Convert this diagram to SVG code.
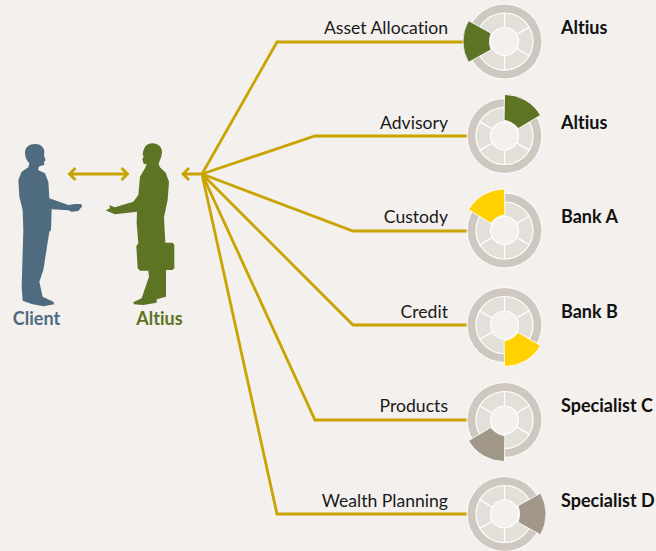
<svg xmlns="http://www.w3.org/2000/svg" width="656" height="551" viewBox="0 0 656 551">
<style>
text{font-variant-ligatures:none}
.c{fill:none;stroke:#c9a400;stroke-width:2.8;stroke-linejoin:miter}
.l{font-family:"Lato","Noto Sans",sans-serif;font-size:17.6px;fill:#1a1a1a;text-anchor:end}
.n{font-family:"Lato","Noto Sans",sans-serif;font-size:18px;font-weight:700;fill:#111}
.p{font-family:"Lato","Noto Sans",sans-serif;font-size:18px;font-weight:700;text-anchor:middle}
.o{fill:#cfc8c0;stroke:#fff;stroke-width:1}
.s{fill:#e3dfd9;stroke:#fff;stroke-width:1.2}
.h{fill:#f3f0ed;stroke:#fff;stroke-width:1.2}
.g{fill:#5c7423}.y{fill:#ffd100}.t{fill:#a2988a}
.wd{stroke:#fff;stroke-width:.8}
</style>
<defs>
<g id="dial">
<circle class="o" r="37.500"/>
<g class="s">
<path d="M0-28.500A28.500 28.500 0 0 1 24.700-14.250L0 0Z"/>
<path d="M24.700-14.250A28.500 28.500 0 0 1 24.700 14.250L0 0Z"/>
<path d="M24.700 14.250A28.500 28.500 0 0 1 0 28.500L0 0Z"/>
<path d="M0 28.500A28.500 28.500 0 0 1-24.700 14.250L0 0Z"/>
<path d="M-24.700 14.250A28.500 28.500 0 0 1-24.700-14.250L0 0Z"/>
<path d="M-24.700-14.250A28.500 28.500 0 0 1 0-28.500L0 0Z"/>
</g>
<circle class="h" r="14"/>
</g>
<path id="wedge" d="M-36-20.800A41.600 41.600 0 0 0-36 20.800L-13.500 8.300A24 24 0 0 1-13.500-8.300Z"/>
</defs>
<rect width="656" height="551" fill="#f3f0ed"/>
<g id="connectors">
<path class="c" d="M202 174L277 42H465"/>
<path class="c" d="M202 174L315 136H468"/>
<path class="c" d="M202 174L353 231H468"/>
<path class="c" d="M202 174L353 325H468"/>
<path class="c" d="M202 174L315 420H468"/>
<path class="c" d="M202 174L277 514H468"/>
<path class="c" d="M202 174H183M189 168L183 174L189 180"/>
<path class="c" d="M70 174H127M75.500 168L69.500 174L75.500 180M121.500 168L127.500 174L121.500 180"/>
</g>
<g id="client">
<path fill="#4f6b80" transform="translate(0 130) scale(.3333)" d="M105 42C122 42 133 52 133 66L132 78L137 90L132 96L133 104C126 108 119 106 116 112L114 120L135 130L145 155L148 205L205 225L225 222L243 222L247 228L235 243L215 245L205 241L155 238L153 300L148 305L130 420L118 455L128 500L160 515L163 523L130 529L95 522L68 512L65 470L70 300L68 240L58 200L55 150L65 125L85 112L88 100C78 90 75 78 75 68C75 52 88 42 105 42Z"/>
<text class="p" x="36.500" y="325" fill="#4f6b80">Client</text>
</g>
<g id="altius">
<path fill="#5c7423" transform="translate(0 130) scale(.3333)" d="M457 40C475 40 487 52 486 68C485 82 478 92 476 102L480 112L497 128L507 155L503 210L492 262L496 338L518 338L523 345L523 415L517 420L498 420L498 500L470 508L470 518L430 525L402 523L400 517L425 505L447 440L445 422L420 422L413 415L409 348L415 340L410 280L411 245L345 253L330 247L317 241L330 235L328 226L345 232L400 215L415 195L420 140L435 115L440 103L431 101L427 88L431 80L428 72C432 50 440 40 457 40Z"/>
<text class="p" x="159.500" y="325" fill="#5c7423">Altius</text>
</g>
<g id="n1"><use href="#dial" x="504.500" y="41.500"/><use href="#wedge" class="g wd" transform="translate(504.500 41.500)"/><text class="l" x="448" y="34">Asset Allocation</text><text class="n" x="561" y="34">Altius</text></g>
<g id="n2"><use href="#dial" x="504.500" y="136"/><use href="#wedge" class="g wd" transform="translate(504.500 136) rotate(120)"/><text class="l" x="448" y="128.500">Advisory</text><text class="n" x="561" y="128.500">Altius</text></g>
<g id="n3"><use href="#dial" x="504.500" y="230.500"/><use href="#wedge" class="y wd" transform="translate(504.500 230.500) rotate(60)"/><text class="l" x="448" y="223">Custody</text><text class="n" x="561" y="223">Bank A</text></g>
<g id="n4"><use href="#dial" x="504.500" y="325"/><use href="#wedge" class="y wd" transform="translate(504.500 325) rotate(240)"/><text class="l" x="448" y="317.500">Credit</text><text class="n" x="561" y="317.500">Bank B</text></g>
<g id="n5"><use href="#dial" x="504.500" y="420"/><use href="#wedge" class="t wd" transform="translate(504.500 420) rotate(-60)"/><text class="l" x="448" y="412">Products</text><text class="n" x="561" y="412">Specialist C</text></g>
<g id="n6"><use href="#dial" x="504.500" y="514"/><use href="#wedge" class="t wd" transform="translate(504.500 514) rotate(180)"/><text class="l" x="448" y="507">Wealth Planning</text><text class="n" x="561" y="507">Specialist D</text></g>
</svg>
